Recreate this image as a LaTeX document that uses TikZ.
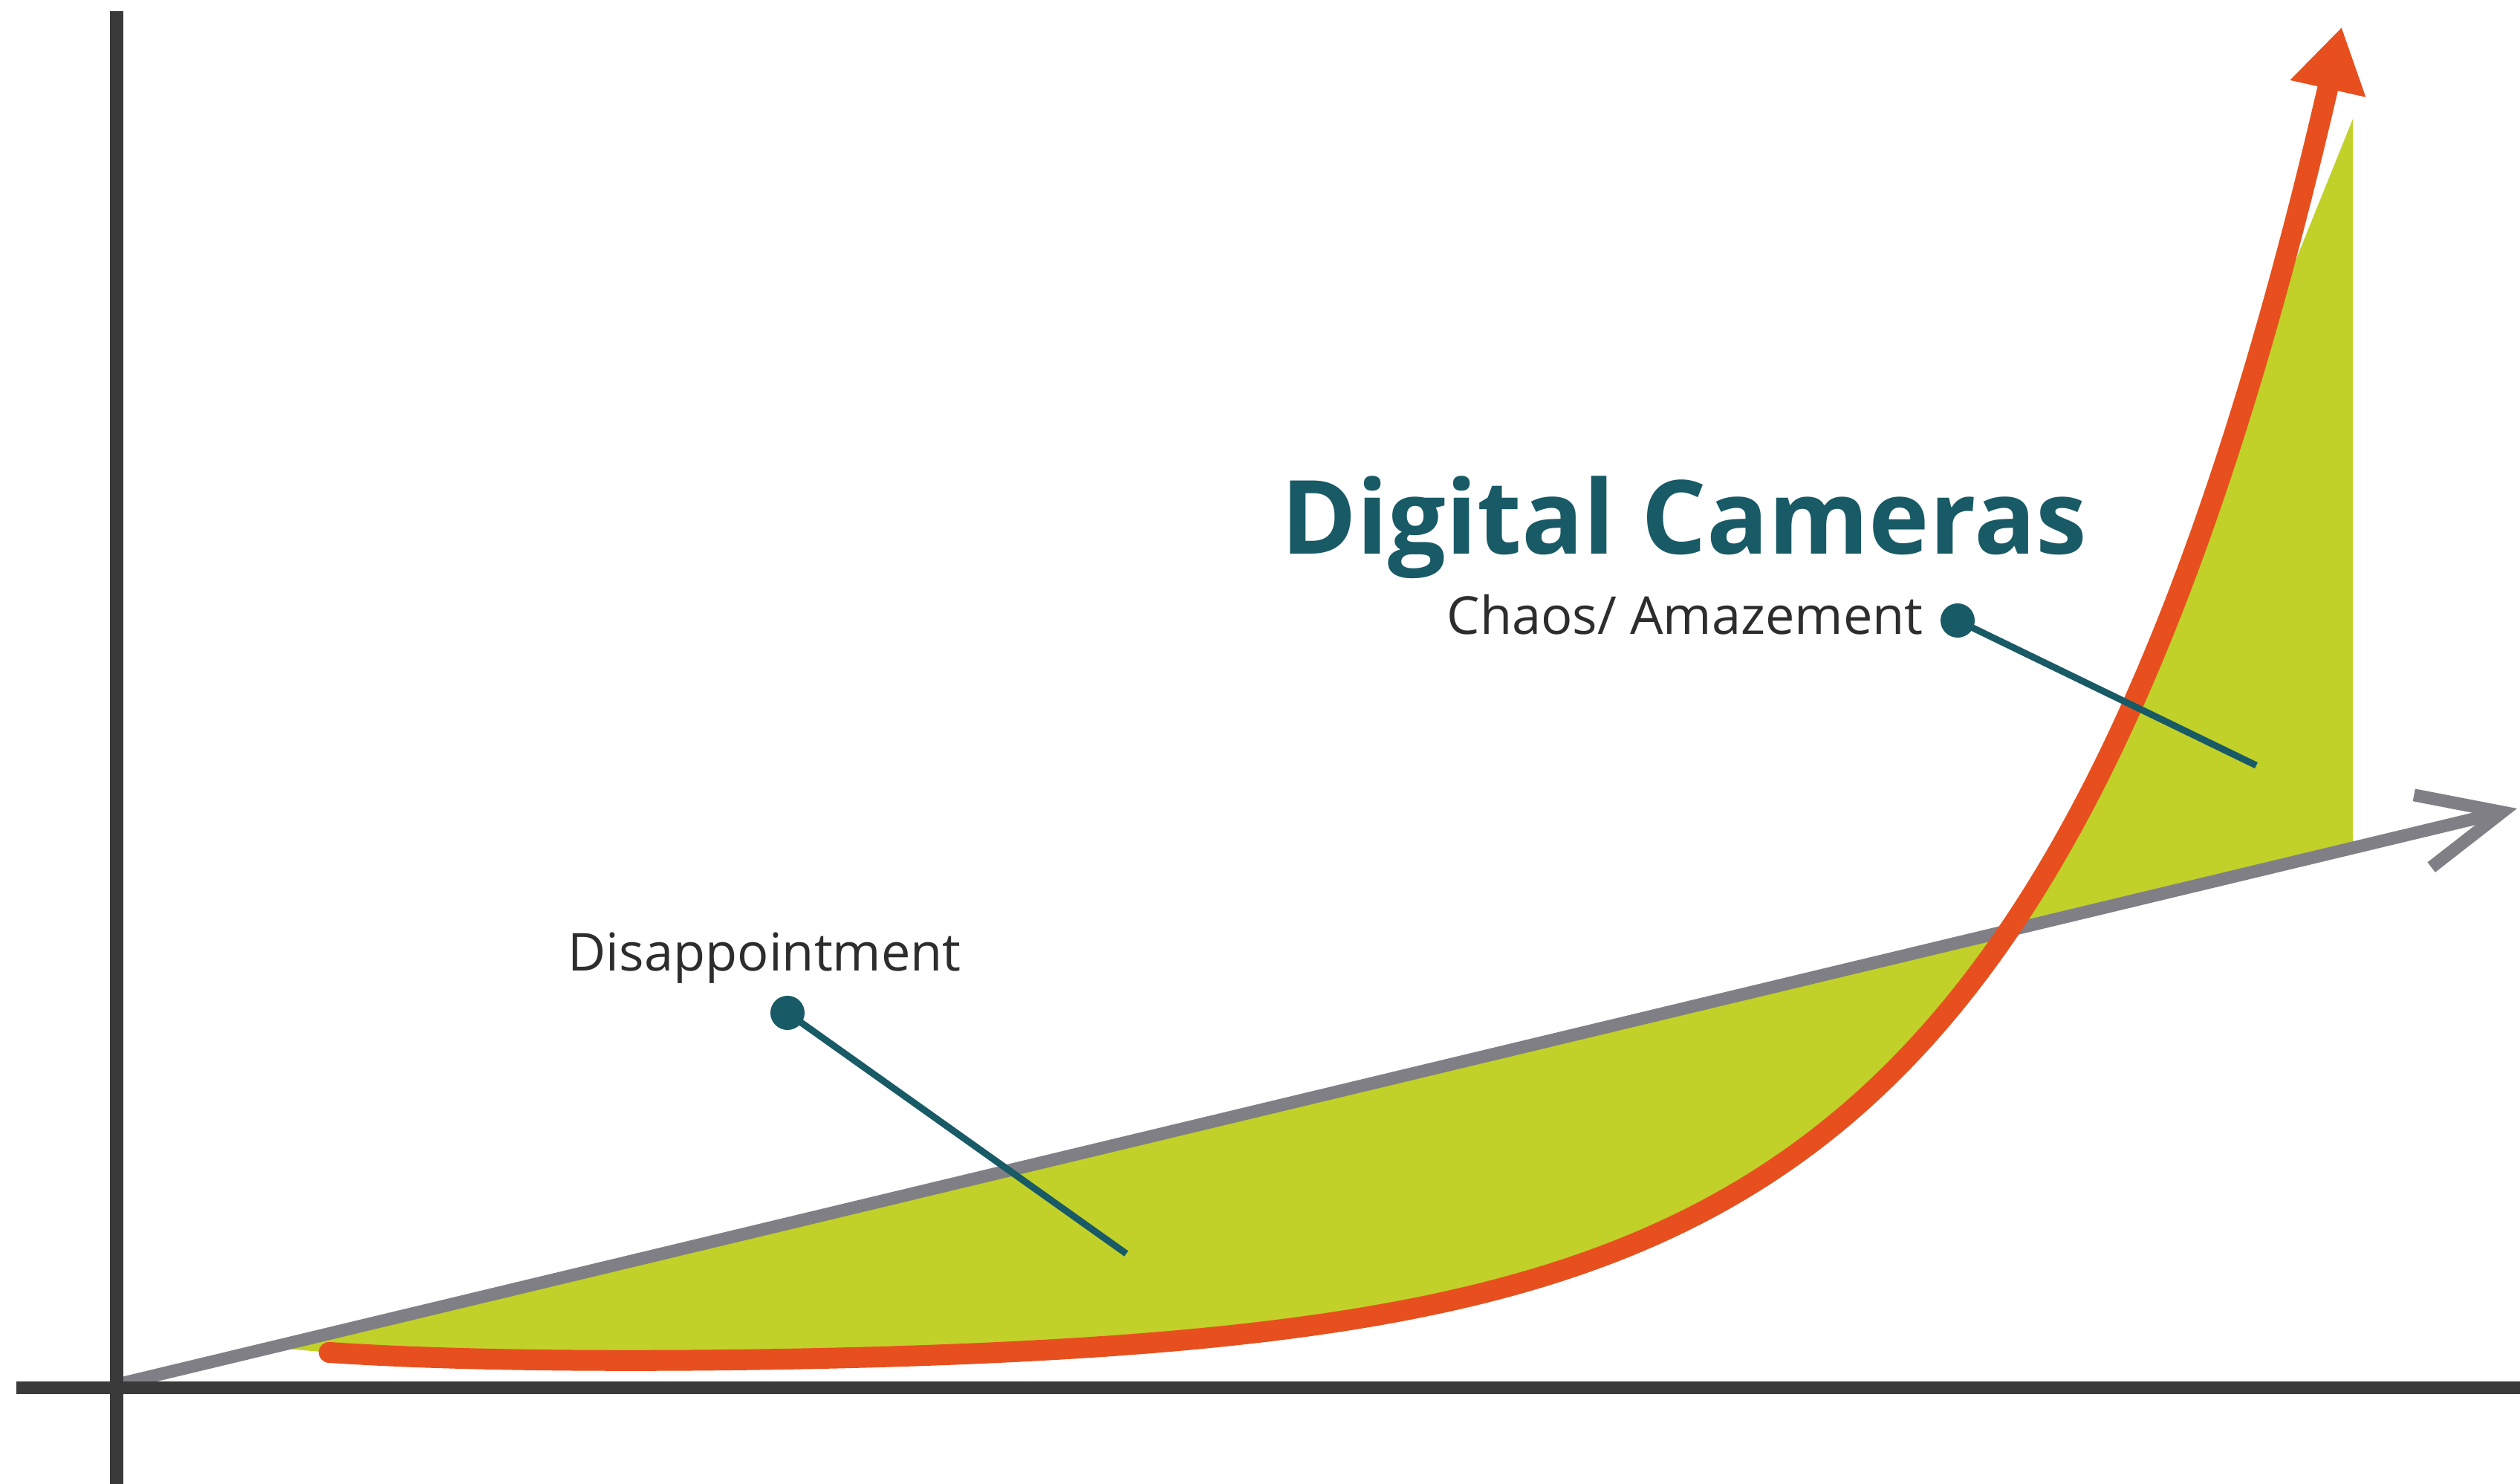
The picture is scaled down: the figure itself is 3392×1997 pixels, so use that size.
\documentclass[tikz,border=0pt]{standalone}
\usepackage{fontspec}
\setmainfont{Open Sans}
\usetikzlibrary{arrows.meta}
\definecolor{axisc}{RGB}{58,58,58}
\definecolor{grayc}{RGB}{128,127,134}
\definecolor{greenc}{RGB}{193,209,42}
\definecolor{orangec}{RGB}{231,80,30}
\definecolor{tealc}{RGB}{24,90,101}
\definecolor{textc}{RGB}{45,45,45}
\begin{document}
\begin{tikzpicture}[x=0.01cm,y=-0.01cm,
  declare function={hype(\t)=1840-0.677*exp(0.0025*\t)-18*exp(-(\t-443)/250);},
  axisline/.style={draw=axisc,line width=0.17cm},
  trendline/.style={draw=grayc,line width=0.17cm,-{Straight Barb[length=1.1cm,width=1.0cm]}},
  hypeline/.style={draw=orangec,line width=0.28cm,line cap=round,-{Triangle[length=0.85cm,width=0.98cm]}},
  dotnode/.style={circle,fill=tealc,inner sep=0,minimum size=0.46cm},
  pinline/.style={draw=tealc,line width=0.09cm},
  label/.style={anchor=base west,inner sep=0,text=textc,font=\fontsize{20}{24}\selectfont},
  titlestyle/.style={anchor=base west,inner sep=0,text=tealc,font=\bfseries\fontsize{39.2}{47}\selectfont}]
\useasboundingbox (0,0) rectangle (3392,1997);
\fill[white] (0,0) rectangle (3392,1997);

% green area between trend line and hype curve
\fill[greenc] (373,1814) -- (3167,1144) -- (3167,160) -- (3072,395)
  -- plot[domain=3060:443,samples=200] (\x,{hype(\x)})
  -- cycle;

% axes
\coordinate (ytop) at (157,15);
\coordinate (ybot) at (157,1997);
\coordinate (xleft) at (22,1867);
\coordinate (xright) at (3392,1867);
\coordinate (orig) at (158,1863);
\coordinate (trendtip) at (3388,1088);

% gray trend
\draw[trendline] (orig) -- (trendtip);

\draw[axisline] (ytop) -- (ybot);
\draw[axisline] (xleft) -- (xright);

% orange hype curve
\draw[hypeline] plot[domain=443:3152,samples=300] (\x,{hype(\x)});

% labels
\node[titlestyle] (title) at (1724,745) {Digital Cameras};
\node[label] (chaos) at (1947,853) {Chaos/ Amazement};
\node[label] (dis) at (764,1306) {Disappointment};

\node[dotnode] (chaosdot) at (2635,835) {};
\coordinate (chaosend) at (3037,1030);
\draw[pinline] (chaosdot.center) -- (chaosend);

\node[dotnode] (disdot) at (1060,1363) {};
\coordinate (disend) at (1516,1687);
\draw[pinline] (disdot.center) -- (disend);
\end{tikzpicture}
\end{document}
